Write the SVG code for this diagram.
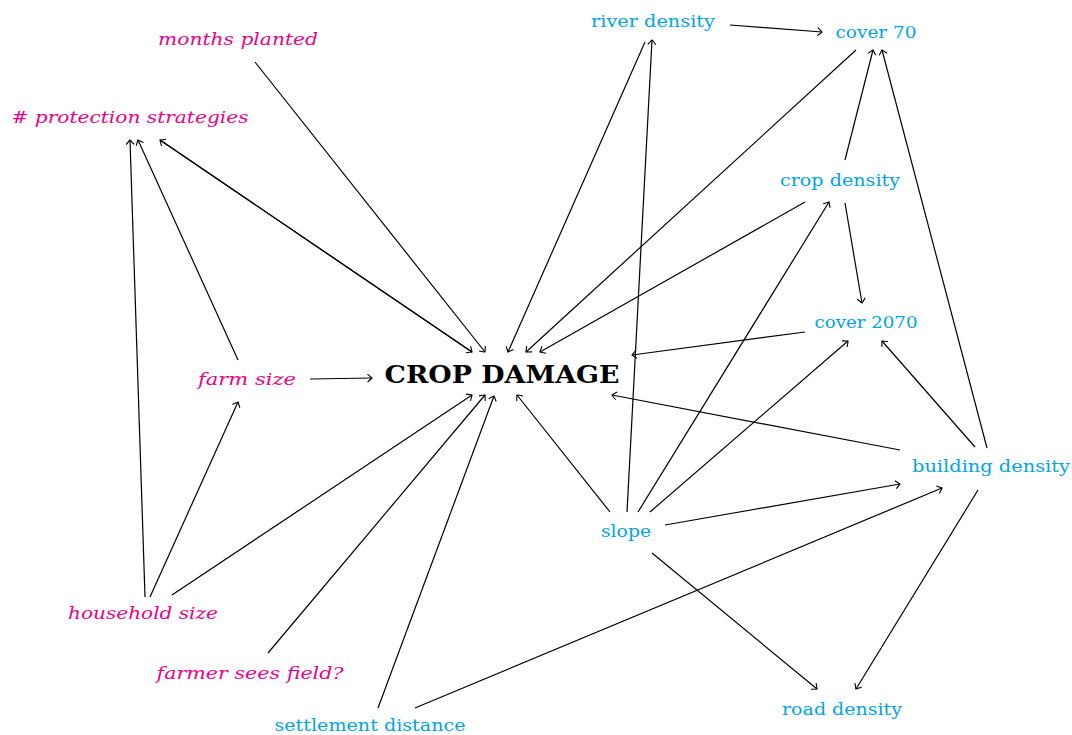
<svg xmlns="http://www.w3.org/2000/svg" width="1072" height="735" viewBox="0 0 1072 735">
<style>
.bg{fill:#ffffff}
.pk{fill:#ec008c;font-family:"DejaVu Serif","Liberation Serif",serif;font-style:italic;font-size:17px}
.cy{fill:#00a5e6;font-family:"DejaVu Serif","Liberation Serif",serif;font-size:17px}
.main{fill:#000000;font-family:"DejaVu Serif","Liberation Serif",serif;font-weight:bold;font-size:25px}
#edges line{stroke:#000000;stroke-width:1.2;fill:none;marker-end:url(#arr)}
</style>
<defs>
<marker id="arr" markerUnits="userSpaceOnUse" markerWidth="12" markerHeight="12" viewBox="-6 -6 12 12" refX="0" refY="0" orient="auto">
<path d="M-4.5,-4 Q-1.2,-1.2 0,0 Q-1.2,1.2 -4.5,4" fill="none" stroke="#000000" stroke-width="1.1"/>
</marker>
</defs>
<rect class="bg" x="0" y="0" width="1072" height="735"/>
<g id="edges">
<line x1="255" y1="62" x2="485" y2="352"/>
<line x1="160" y1="140" x2="472" y2="352"/>
<line x1="472" y1="352" x2="160" y2="140"/>
<line x1="238" y1="360" x2="138" y2="140"/>
<line x1="145" y1="597" x2="130" y2="140"/>
<line x1="150" y1="597" x2="238" y2="402"/>
<line x1="172" y1="595" x2="472" y2="395"/>
<line x1="310" y1="379" x2="372" y2="378"/>
<line x1="268" y1="653" x2="485" y2="395"/>
<line x1="378" y1="708" x2="494" y2="396"/>
<line x1="415" y1="708" x2="942" y2="488"/>
<line x1="610" y1="512" x2="517" y2="395"/>
<line x1="627" y1="512" x2="652" y2="40"/>
<line x1="638" y1="512" x2="829" y2="202"/>
<line x1="650" y1="512" x2="848" y2="341"/>
<line x1="665" y1="525" x2="900" y2="484"/>
<line x1="652" y1="553" x2="817" y2="689"/>
<line x1="645" y1="42" x2="508" y2="352"/>
<line x1="730" y1="25" x2="822" y2="32"/>
<line x1="856" y1="50" x2="526" y2="352"/>
<line x1="805" y1="202" x2="540" y2="352"/>
<line x1="845" y1="160" x2="873" y2="50"/>
<line x1="845" y1="203" x2="862" y2="303"/>
<line x1="805" y1="332" x2="632" y2="355"/>
<line x1="900" y1="450" x2="612" y2="395"/>
<line x1="975" y1="447" x2="882" y2="341"/>
<line x1="987" y1="448" x2="882" y2="50"/>
<line x1="978" y1="490" x2="856" y2="689"/>
</g>
<g id="n-crop-damage"><text class="main" x="502" y="383" text-anchor="middle" textLength="235" lengthAdjust="spacingAndGlyphs">CROP DAMAGE</text></g>
<g id="n-months-planted"><text class="pk" x="238" y="45" text-anchor="middle" textLength="160" lengthAdjust="spacingAndGlyphs">months planted</text></g>
<g id="n-protection"><text class="pk" x="130" y="123" text-anchor="middle" textLength="237" lengthAdjust="spacingAndGlyphs"># protection strategies</text></g>
<g id="n-farm-size"><text class="pk" x="247" y="385" text-anchor="middle" textLength="98" lengthAdjust="spacingAndGlyphs">farm size</text></g>
<g id="n-household-size"><text class="pk" x="143" y="619" text-anchor="middle" textLength="150" lengthAdjust="spacingAndGlyphs">household size</text></g>
<g id="n-farmer-sees-field"><text class="pk" x="250" y="679" text-anchor="middle" textLength="187" lengthAdjust="spacingAndGlyphs">farmer sees field?</text></g>
<g id="n-settlement-distance"><text class="cy" x="370" y="731" text-anchor="middle" textLength="191" lengthAdjust="spacingAndGlyphs">settlement distance</text></g>
<g id="n-river-density"><text class="cy" x="653" y="27" text-anchor="middle" textLength="124" lengthAdjust="spacingAndGlyphs">river density</text></g>
<g id="n-cover-70"><text class="cy" x="876" y="38" text-anchor="middle" textLength="81" lengthAdjust="spacingAndGlyphs">cover 70</text></g>
<g id="n-crop-density"><text class="cy" x="840" y="186" text-anchor="middle" textLength="120" lengthAdjust="spacingAndGlyphs">crop density</text></g>
<g id="n-cover-2070"><text class="cy" x="866" y="328" text-anchor="middle" textLength="103" lengthAdjust="spacingAndGlyphs">cover 2070</text></g>
<g id="n-building-density"><text class="cy" x="991" y="472" text-anchor="middle" textLength="158" lengthAdjust="spacingAndGlyphs">building density</text></g>
<g id="n-slope"><text class="cy" x="626" y="537" text-anchor="middle" textLength="50" lengthAdjust="spacingAndGlyphs">slope</text></g>
<g id="n-road-density"><text class="cy" x="842" y="715" text-anchor="middle" textLength="120" lengthAdjust="spacingAndGlyphs">road density</text></g>
</svg>
